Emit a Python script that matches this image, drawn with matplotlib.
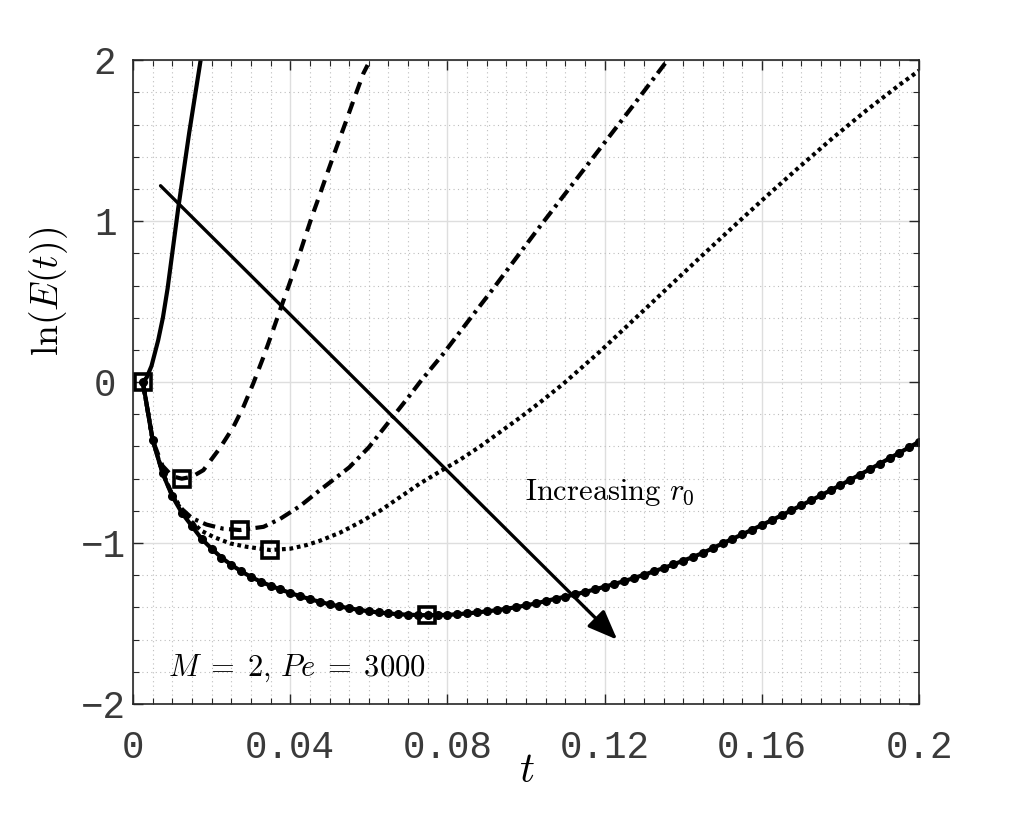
import numpy as np
import matplotlib
matplotlib.use("Agg")
import matplotlib.pyplot as plt
from matplotlib.ticker import MultipleLocator, FixedLocator
from matplotlib.transforms import ScaledTranslation

plt.rcParams['mathtext.fontset'] = 'cm'
plt.rcParams['axes.unicode_minus'] = True

# ---- data ----
# curve with dot markers (largest r0), sampled every 0.0025
t_main = np.round(np.arange(1, 81) * 0.0025, 4)
y_main = [0.0, -0.36, -0.565, -0.71, -0.815, -0.895, -0.975, -1.035, -1.09, -1.135,
          -1.175, -1.21, -1.24, -1.265, -1.288, -1.31, -1.33, -1.348, -1.365, -1.38,
          -1.393, -1.405, -1.415, -1.424, -1.431, -1.437, -1.442, -1.445, -1.447, -1.448,
          -1.447, -1.446, -1.442, -1.437, -1.431, -1.424, -1.417, -1.408, -1.398, -1.387,
          -1.375, -1.36, -1.346, -1.333, -1.319, -1.304, -1.288, -1.271, -1.254, -1.236,
          -1.217, -1.197, -1.176, -1.155, -1.133, -1.109, -1.086, -1.061, -1.032, -1.002,
          -0.974, -0.946, -0.917, -0.888, -0.858, -0.828, -0.797, -0.766, -0.735, -0.704,
          -0.672, -0.64, -0.607, -0.574, -0.541, -0.507, -0.473, -0.439, -0.405, -0.37]

# solid (smallest r0)
t_solid = [0.0025, 0.0035, 0.0047, 0.0064, 0.0076, 0.0088, 0.0115, 0.0143, 0.0172]
y_solid = [0.0, 0.03, 0.1, 0.26, 0.40, 0.582, 1.08, 1.55, 2.0]

# dashed
t_dash = [0.0025, 0.005, 0.0075, 0.01, 0.0124, 0.015, 0.0179, 0.0221, 0.0255, 0.0281,
          0.0306, 0.0332, 0.0353, 0.0374, 0.0395, 0.0416, 0.0435, 0.0455, 0.0476, 0.0497,
          0.0518, 0.054, 0.0561, 0.0586, 0.0597]
y_dash = [0.0, -0.36, -0.52, -0.585, -0.6, -0.588, -0.547, -0.41, -0.28, -0.153,
          -0.008, 0.157, 0.30, 0.447, 0.59, 0.737, 0.88, 1.027, 1.17, 1.317,
          1.46, 1.607, 1.75, 1.917, 1.97]

# dash-dot
t_dd = [0.0025, 0.005, 0.0075, 0.01, 0.0125, 0.015, 0.0187, 0.023, 0.0272, 0.0332,
        0.0374, 0.0425, 0.0476, 0.05, 0.055, 0.06, 0.065, 0.0705, 0.073, 0.079,
        0.085, 0.091, 0.097, 0.103, 0.109, 0.115, 0.121, 0.127, 0.136]
y_dd = [0.0, -0.36, -0.56, -0.70, -0.79, -0.845, -0.885, -0.911, -0.919, -0.899,
        -0.85, -0.77, -0.67, -0.625, -0.53, -0.405, -0.25, -0.08, 0.0, 0.178,
        0.37, 0.56, 0.755, 0.95, 1.14, 1.33, 1.52, 1.71, 2.0]

# dotted
t_dot = [0.0025, 0.005, 0.0075, 0.01, 0.0125, 0.015, 0.0175, 0.0204, 0.0247, 0.0289,
         0.0349, 0.04, 0.0442, 0.0476, 0.0527, 0.0578, 0.0628, 0.0679, 0.073, 0.0781,
         0.0832, 0.0883, 0.0934, 0.0985, 0.1036, 0.1095, 0.1188, 0.1273, 0.1358, 0.1443,
         0.1527, 0.1612, 0.1697, 0.1782, 0.1867, 0.1952, 0.2]
y_dot = [0.0, -0.36, -0.56, -0.705, -0.80, -0.87, -0.925, -0.961, -1.002, -1.023,
         -1.043, -1.035, -1.012, -0.985, -0.935, -0.87, -0.80, -0.715, -0.63, -0.555,
         -0.482, -0.40, -0.31, -0.22, -0.125, -0.01, 0.19, 0.385, 0.58, 0.775,
         0.965, 1.155, 1.34, 1.52, 1.69, 1.85, 1.935]

# minima markers (squares)
t_min = [0.0025, 0.0124, 0.0272, 0.0349, 0.0747]
y_min = [0.0, -0.6, -0.919, -1.043, -1.447]

xticks = [0, 0.04, 0.08, 0.12, 0.16, 0.2]
xticklabels = ['0', '0.04', '0.08', '0.12', '0.16', '0.2']
yticks = [-2, -1, 0, 1, 2]

fig = plt.figure(figsize=(10.17, 8.13), dpi=100)
ax = fig.add_axes([0.1308, 0.134, 0.7729, 0.792])

lw = 3.0
ax.plot(t_solid, y_solid, color='k', lw=lw, solid_capstyle='butt')
l_dash, = ax.plot(t_dash, y_dash, color='k', lw=lw)
l_dash.set_dashes([3, 2])
l_dd, = ax.plot(t_dd, y_dd, color='k', lw=lw)
l_dd.set_dashes([3, 1.3, 0.8, 1.3])
l_dot, = ax.plot(t_dot, y_dot, color='k', lw=lw)
l_dot.set_dashes([0.9, 0.9])
ax.plot(t_main, y_main, color='k', lw=lw, marker='o', ms=5.5)
ax.plot(t_min, y_min, 's', mfc='none', mec='k', ms=12, mew=2.6)

ax.annotate('', xy=(0.1232, -1.60), xytext=(0.007, 1.22),
            arrowprops=dict(arrowstyle='-|>,head_length=1.0,head_width=0.4',
                            lw=2.4, color='k', mutation_scale=18,
                            shrinkA=0, shrinkB=0))

ax.text(0.0997, -0.685, r'$\mathrm{Increasing}\ r_0$', fontsize=22, va='center', ha='left')
ax.text(0.0089, -1.776, r'$M\;=\;2,\,Pe\;=\;3000$', fontsize=22, va='center', ha='left')

ax.set_xlim(0, 0.2)
ax.set_ylim(-2, 2)
ax.xaxis.set_major_locator(FixedLocator(xticks))
ax.set_xticklabels(xticklabels)
ax.xaxis.set_minor_locator(MultipleLocator(0.005))
ax.yaxis.set_major_locator(FixedLocator(yticks))
ax.yaxis.set_minor_locator(MultipleLocator(0.2))

ax.grid(which='major', color='#dedede', lw=1.0, ls='-')
ax.grid(which='minor', color='#bdbdbd', lw=0.8, ls=(0, (1, 3)))
ax.set_axisbelow(True)

ax.tick_params(which='both', direction='in', top=True, right=True, color='#262626')
ax.tick_params(which='major', length=7, width=1.0)
ax.tick_params(axis='x', which='major', pad=19)
ax.tick_params(axis='y', which='major', pad=12)
ax.tick_params(which='minor', length=4, width=0.8)
for lab in ax.get_xticklabels() + ax.get_yticklabels():
    lab.set_fontfamily('Liberation Mono')
    lab.set_fontsize(27)
    lab.set_color('#3a3a3a')
# negative y labels sit a little closer to the axis in the reference
for lab, v in zip(ax.get_yticklabels(), yticks):
    if v < 0:
        lab.set_transform(lab.get_transform() + ScaledTranslation(9 / 100, 0, fig.dpi_scale_trans))
for s in ax.spines.values():
    s.set_color('#262626')
    s.set_linewidth(1.2)

ax.set_xlabel(r'$t$', fontsize=30)
ax.xaxis.set_label_coords(0.501, -0.102)
ax.xaxis.label.set_va('center')
ax.set_ylabel(r'$\ln(E(t))$', fontsize=27)
ax.yaxis.set_label_coords(-0.108, 0.64)
ax.yaxis.label.set_va('center')
ax.yaxis.label.set_ha('center')

fig.savefig('out.png', dpi=100)
